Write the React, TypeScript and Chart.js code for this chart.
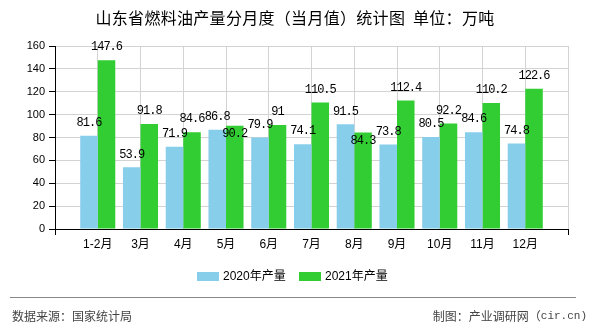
import React, { useEffect, useRef } from 'react';
import { Chart, registerables } from 'chart.js';

Chart.register(...registerables);

const categories = ['1-2月', '3月', '4月', '5月', '6月', '7月', '8月', '9月', '10月', '11月', '12月'];
const series2020 = [81.6, 53.9, 71.9, 86.8, 79.9, 74.1, 91.5, 73.8, 80.5, 84.6, 74.8];
const series2021 = [147.6, 91.8, 84.6, 90.2, 91, 110.5, 84.3, 112.4, 92.2, 110.2, 122.6];
const seriesNames = ['2020年产量', '2021年产量'];
const seriesColors = ['#87CEEB', '#32CD32'];
const yMin = 0;
const yMax = 160;
const yStep = 20;
const titleText = '山东省燃料油产量分月度（当月值）统计图  单位：万吨';
const sourceText = '数据来源：国家统计局';
const creditMain = '制图：产业调研网（';
const creditSite = 'cir.cn)';

const SANS = "'Liberation Sans', 'Noto Sans CJK SC', sans-serif";
const CJK = "'Noto Sans CJK SC', 'Liberation Sans', sans-serif";
const MONO = "'Liberation Mono', 'DejaVu Sans Mono', monospace";

const paddedLabels = ['', ...categories, ''];
const pad = (arr: number[]) => [null, ...arr, null];

const decorPlugin = {
  id: 'decor',
  afterDatasetsDraw(chart: any) {
    const ctx = chart.ctx;
    const m0 = chart.getDatasetMeta(0);
    const m1 = chart.getDatasetMeta(1);
    ctx.save();
    ctx.font = `12px ${MONO}`;
    try { (ctx as any).letterSpacing = '-1px'; } catch (e) {}
    ctx.fillStyle = '#000';
    ctx.textAlign = 'center';
    ctx.textBaseline = 'middle';
    for (let i = 0; i < paddedLabels.length; i++) {
      const v0 = chart.data.datasets[0].data[i];
      const v1 = chart.data.datasets[1].data[i];
      if (v0 == null || v1 == null) continue;
      const e0 = m0.data[i];
      const e1 = m1.data[i];
      const y0 = e0.y - 13;
      let y1 = e1.y - 13;
      if (Math.abs(y1 - y0) < 10) y1 = e1.y + 8;
      ctx.fillText(String(v0), e0.x, y0);
      ctx.fillText(String(v1), e1.x, y1);
    }
    ctx.restore();
  },
  afterDraw(chart: any) {
    const ctx = chart.ctx;
    ctx.save();
    // title
    ctx.fillStyle = '#000';
    ctx.font = `16px ${CJK}`;
    try { (ctx as any).letterSpacing = '0.3px'; } catch (e) {}
    ctx.textAlign = 'center';
    ctx.textBaseline = 'middle';
    ctx.fillText(titleText, 295, 18);
    try { (ctx as any).letterSpacing = '0px'; } catch (e) {}

    // legend
    ctx.font = `12px ${SANS}`;
    ctx.textAlign = 'left';
    const legendX = [197, 299];
    seriesNames.forEach((name, i) => {
      ctx.fillStyle = seriesColors[i];
      ctx.fillRect(legendX[i], 272, 22, 9);
      ctx.fillStyle = '#000';
      ctx.fillText(name, legendX[i] + 26, 277);
    });

    // separator
    ctx.strokeStyle = '#888';
    ctx.lineWidth = 1;
    ctx.beginPath();
    ctx.moveTo(10, 297.5);
    ctx.lineTo(576, 297.5);
    ctx.stroke();

    // footer
    ctx.fillStyle = '#444';
    ctx.font = `12px ${CJK}`;
    ctx.textAlign = 'left';
    ctx.fillText(sourceText, 12, 316);
    ctx.font = `11px ${MONO}`;
    ctx.textAlign = 'right';
    ctx.fillText(creditSite, 587, 316);
    const siteW = ctx.measureText(creditSite).width;
    ctx.font = `12px ${CJK}`;
    ctx.fillText(creditMain, 587 - siteW, 316);
    ctx.restore();
  },
};

export default function App() {
  const ref = useRef<HTMLCanvasElement | null>(null);
  useEffect(() => {
    if (!ref.current) return;
    const lastIdx = paddedLabels.length - 1;
    const chart = new Chart(ref.current, {
      type: 'bar',
      data: {
        labels: paddedLabels,
        datasets: [
          {
            label: seriesNames[0],
            data: pad(series2020) as any,
            backgroundColor: seriesColors[0],
            categoryPercentage: 0.82,
            barPercentage: 1.0,
          },
          {
            label: seriesNames[1],
            data: pad(series2021) as any,
            backgroundColor: seriesColors[1],
            categoryPercentage: 0.82,
            barPercentage: 1.0,
          },
        ],
      },
      options: {
        responsive: false,
        animation: false,
        events: [],
        layout: { padding: { left: 10, right: 22, top: 46, bottom: 71 } },
        plugins: {
          legend: { display: false },
          title: { display: false },
          tooltip: { enabled: false },
        },
        scales: {
          x: {
            offset: false,
            afterFit: (s: any) => { s.height = 30; },
            grid: {
              offset: false,
              color: '#d3d3d3',
              tickLength: 6,
              tickColor: (c: any) => (c.index === 0 || c.index === lastIdx ? '#000' : 'rgba(0,0,0,0)'),
            },
            border: { color: '#000' },
            ticks: {
              autoSkip: false,
              maxRotation: 0,
              padding: 2,
              color: '#000',
              font: { size: 12, family: SANS },
            },
          },
          y: {
            min: yMin,
            max: yMax,
            afterFit: (s: any) => { s.width = 45; },
            grid: { color: '#d3d3d3', tickLength: 6, tickColor: '#000' },
            border: { color: '#000' },
            ticks: {
              stepSize: yStep,
              padding: 4,
              color: '#000',
              font: { size: 11, family: SANS },
            },
          },
        },
      },
      plugins: [decorPlugin],
    });
    return () => chart.destroy();
  }, []);
  return (
    <div style={{ position: 'absolute', left: 0, top: 0, width: 590, height: 330, background: '#fff' }}>
      <canvas ref={ref} width={590} height={330} style={{ display: 'block' }} />
    </div>
  );
}
